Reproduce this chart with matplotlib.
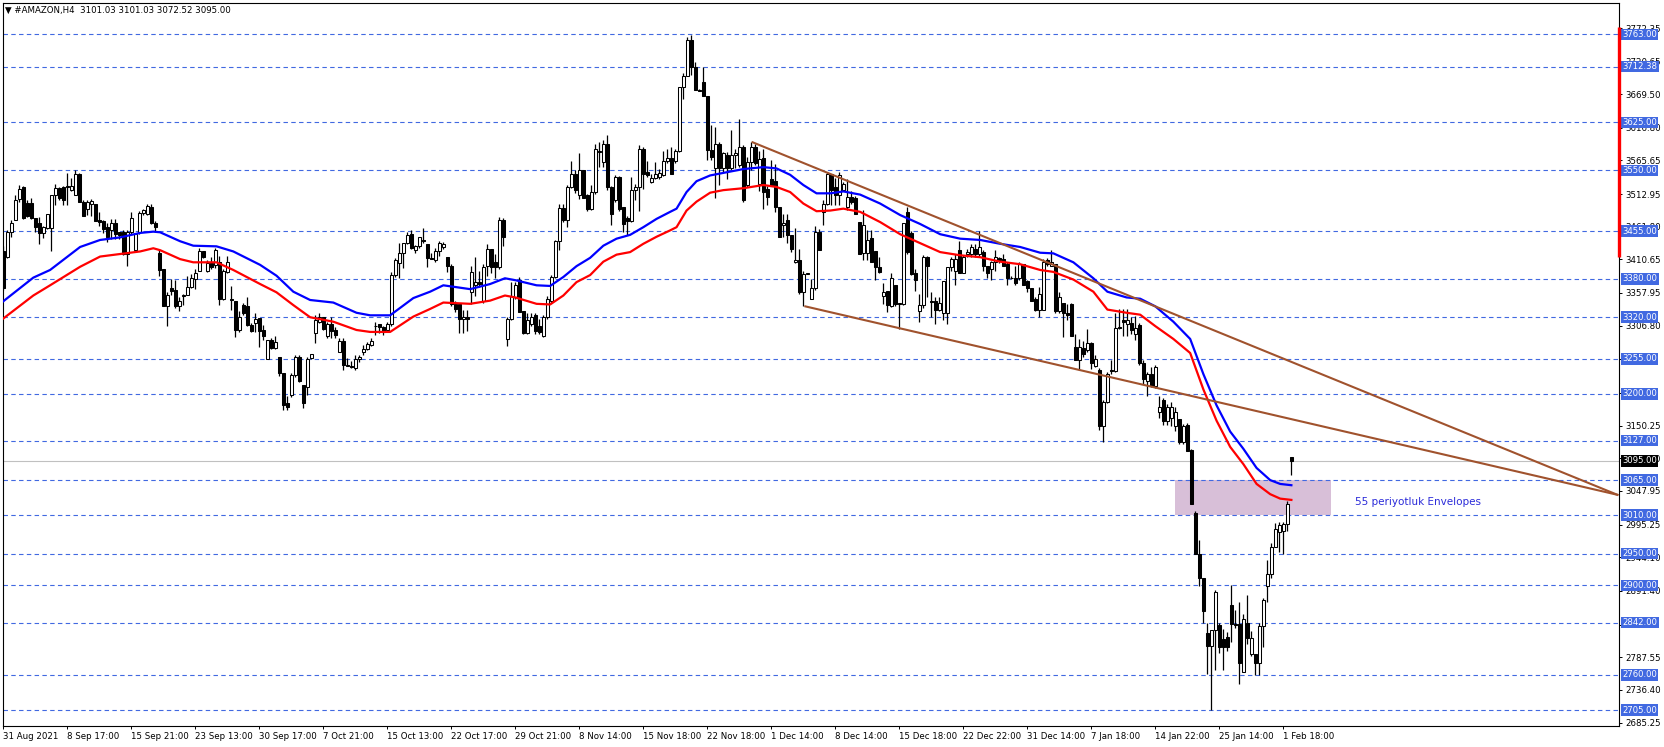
import matplotlib
matplotlib.use("Agg")
import matplotlib.pyplot as plt
import matplotlib.transforms as mtransforms
from matplotlib.patches import Rectangle
import numpy as np

# H4 candles (one value per bar)
opens = [
    3423, 3415, 3454, 3473, 3505, 3524, 3499, 3499, 3476, 3468,
    3452, 3459, 3459, 3511, 3522, 3524, 3524, 3519, 3512, 3544,
    3501, 3490, 3497, 3497, 3473, 3470, 3462, 3457, 3467, 3453,
    3454, 3419, 3454, 3426, 3453, 3483, 3482, 3492, 3467, 3420,
    3395, 3338, 3366, 3363, 3337, 3353, 3355, 3367, 3380, 3393,
    3423, 3393, 3405, 3402, 3407, 3348, 3391, 3348, 3346, 3300,
    3339, 3338, 3308, 3311, 3319, 3300, 3255, 3284, 3272, 3257,
    3232, 3185, 3198, 3229, 3257, 3214, 3211, 3256, 3295, 3313,
    3320, 3290, 3310, 3300, 3266, 3283, 3246, 3244, 3240, 3255,
    3266, 3270, 3276, 3307, 3309, 3305, 3300, 3310, 3386, 3405,
    3420, 3436, 3450, 3425, 3431, 3441, 3434, 3413, 3409, 3424,
    3430, 3414, 3401, 3341, 3341, 3318, 3320, 3359, 3370, 3375,
    3346, 3401, 3427, 3406, 3398, 3472, 3286, 3317, 3351, 3378,
    3330, 3296, 3310, 3323, 3307, 3291, 3320, 3346, 3383, 3439,
    3491, 3472, 3524, 3545, 3511, 3550, 3511, 3490, 3516, 3581,
    3563, 3592, 3524, 3503, 3540, 3493, 3475, 3470, 3519, 3524,
    3584, 3547, 3532, 3538, 3540, 3542, 3564, 3570, 3564, 3580,
    3681, 3697, 3754, 3712, 3676, 3688, 3667, 3582, 3553, 3592,
    3553, 3574, 3553, 3574, 3559, 3587, 3527, 3563, 3587, 3529,
    3569, 3521, 3537, 3534, 3492, 3464, 3472, 3449, 3406, 3410,
    3359, 3388, 3349, 3365, 3453, 3485, 3498, 3545, 3524, 3512,
    3519, 3493, 3508, 3507, 3469, 3420, 3420, 3444, 3423, 3399,
    3354, 3361, 3338, 3370, 3342, 3340, 3485, 3452, 3390, 3330,
    3339, 3414, 3346, 3346, 3332, 3327, 3327, 3398, 3392, 3425,
    3390, 3419, 3419, 3427, 3419, 3422, 3400, 3395, 3406, 3413,
    3411, 3403, 3382, 3381, 3381, 3403, 3376, 3365, 3349, 3332,
    3332, 3409, 3400, 3403, 3330, 3343, 3327, 3340, 3273, 3253,
    3272, 3269, 3280, 3243, 3237, 3150, 3188, 3238, 3236, 3305,
    3315, 3309, 3311, 3293, 3308, 3248, 3220, 3231, 3212, 3171,
    3190, 3157, 3163, 3150, 3160, 3125, 3151, 3112, 3014, 2950,
    2912, 2825, 2806, 2830, 2838, 2816, 2819, 2869, 2839, 2839,
    2765, 2841, 2792, 2792, 2779, 2836, 2899, 2918, 2961, 2983,
    2986, 2997, 3101.03,
]
highs = [
    3431, 3457, 3473, 3511, 3527, 3526, 3504, 3507, 3476, 3477,
    3463, 3482, 3512, 3529, 3524, 3526, 3546, 3538, 3550, 3546,
    3504, 3504, 3505, 3497, 3485, 3473, 3467, 3474, 3474, 3454,
    3456, 3457, 3484, 3452, 3486, 3490, 3498, 3497, 3470, 3425,
    3395, 3360, 3380, 3378, 3351, 3357, 3384, 3388, 3395, 3428,
    3424, 3410, 3415, 3428, 3416, 3395, 3416, 3369, 3346, 3329,
    3343, 3351, 3311, 3327, 3319, 3308, 3284, 3287, 3290, 3258,
    3232, 3196, 3232, 3261, 3261, 3214, 3257, 3263, 3323, 3327,
    3321, 3312, 3321, 3304, 3288, 3287, 3256, 3251, 3261, 3261,
    3277, 3281, 3288, 3313, 3310, 3307, 3312, 3391, 3413, 3436,
    3437, 3454, 3457, 3433, 3445, 3460, 3434, 3420, 3429, 3440,
    3438, 3414, 3403, 3346, 3343, 3331, 3331, 3401, 3414, 3393,
    3403, 3435, 3427, 3419, 3477, 3475, 3320, 3375, 3375, 3383,
    3330, 3326, 3326, 3326, 3318, 3323, 3354, 3386, 3441, 3498,
    3498, 3527, 3564, 3551, 3577, 3551, 3513, 3527, 3592, 3595,
    3597, 3605, 3526, 3543, 3541, 3493, 3478, 3540, 3529, 3589,
    3587, 3565, 3544, 3563, 3552, 3580, 3584, 3586, 3584, 3681,
    3702, 3758, 3762, 3720, 3677, 3712, 3667, 3621, 3618, 3594,
    3579, 3579, 3613, 3584, 3631, 3590, 3571, 3594, 3592, 3581,
    3583, 3526, 3566, 3560, 3492, 3481, 3482, 3449, 3459, 3427,
    3393, 3389, 3380, 3463, 3458, 3503, 3547, 3545, 3538, 3547,
    3532, 3537, 3518, 3510, 3469, 3488, 3457, 3457, 3423, 3414,
    3373, 3361, 3389, 3370, 3343, 3467, 3493, 3455, 3395, 3357,
    3417, 3416, 3360, 3351, 3351, 3376, 3398, 3414, 3419, 3439,
    3417, 3427, 3435, 3435, 3455, 3425, 3400, 3408, 3425, 3414,
    3419, 3406, 3385, 3400, 3406, 3403, 3379, 3365, 3352, 3368,
    3411, 3412, 3425, 3403, 3359, 3343, 3341, 3343, 3294, 3286,
    3283, 3302, 3282, 3261, 3240, 3191, 3234, 3253, 3327, 3333,
    3333, 3333, 3320, 3322, 3311, 3253, 3234, 3242, 3245, 3196,
    3193, 3184, 3187, 3180, 3160, 3153, 3155, 3114, 3016, 2972,
    2912, 2841, 2830, 2893, 2841, 2832, 2827, 2901, 2862, 2874,
    2855, 2885, 2828, 2792, 2841, 2881, 2940, 2966, 2998, 3000,
    2999, 3032, 3101.03,
]
lows = [
    3362, 3412, 3445, 3472, 3501, 3474, 3477, 3474, 3454, 3435,
    3444, 3458, 3424, 3496, 3504, 3495, 3495, 3517, 3511, 3500,
    3478, 3480, 3478, 3470, 3463, 3452, 3438, 3443, 3443, 3443,
    3418, 3400, 3451, 3424, 3451, 3480, 3480, 3466, 3454, 3384,
    3337, 3306, 3355, 3335, 3330, 3339, 3355, 3366, 3364, 3393,
    3413, 3391, 3396, 3397, 3339, 3347, 3389, 3332, 3289, 3297,
    3323, 3307, 3297, 3297, 3274, 3284, 3255, 3270, 3271, 3228,
    3175, 3174, 3195, 3227, 3219, 3178, 3199, 3255, 3280, 3311,
    3300, 3288, 3288, 3287, 3265, 3237, 3244, 3240, 3238, 3250,
    3261, 3268, 3275, 3292, 3295, 3292, 3297, 3307, 3383, 3382,
    3397, 3434, 3427, 3420, 3428, 3437, 3399, 3411, 3407, 3416,
    3427, 3391, 3338, 3328, 3296, 3296, 3298, 3341, 3354, 3368,
    3343, 3385, 3390, 3381, 3396, 3431, 3275, 3315, 3348, 3328,
    3294, 3294, 3307, 3294, 3294, 3289, 3317, 3343, 3381, 3425,
    3469, 3461, 3522, 3515, 3505, 3506, 3487, 3488, 3513, 3555,
    3555, 3519, 3464, 3500, 3487, 3453, 3448, 3469, 3503, 3487,
    3521, 3540, 3530, 3537, 3537, 3541, 3561, 3545, 3561, 3579,
    3662, 3697, 3699, 3676, 3674, 3667, 3566, 3566, 3506, 3527,
    3548, 3537, 3550, 3553, 3555, 3500, 3524, 3550, 3559, 3518,
    3490, 3495, 3526, 3484, 3445, 3445, 3436, 3422, 3405, 3356,
    3337, 3387, 3348, 3362, 3425, 3464, 3496, 3496, 3496, 3496,
    3517, 3488, 3498, 3482, 3419, 3409, 3409, 3406, 3379, 3390,
    3341, 3328, 3336, 3337, 3302, 3339, 3419, 3386, 3361, 3313,
    3335, 3351, 3320, 3310, 3329, 3316, 3310, 3393, 3370, 3389,
    3390, 3414, 3414, 3414, 3414, 3392, 3382, 3379, 3393, 3405,
    3400, 3370, 3380, 3370, 3378, 3370, 3360, 3346, 3330, 3321,
    3332, 3400, 3400, 3327, 3327, 3289, 3315, 3290, 3253, 3238,
    3257, 3266, 3239, 3242, 3144, 3125, 3186, 3231, 3234, 3301,
    3290, 3290, 3293, 3284, 3246, 3215, 3196, 3211, 3209, 3163,
    3152, 3152, 3150, 3142, 3122, 3122, 3111, 3027, 2950, 2899,
    2841, 2762, 2705, 2767, 2794, 2767, 2797, 2811, 2834, 2746,
    2765, 2808, 2790, 2760, 2760, 2803, 2874, 2911, 2961, 2953,
    2949, 2986, 3072.52,
]
closes = [
    3365, 3454, 3468, 3504, 3521, 3475, 3478, 3475, 3462, 3452,
    3461, 3481, 3511, 3522, 3507, 3504, 3525, 3526, 3544, 3501,
    3479, 3501, 3502, 3471, 3469, 3458, 3445, 3467, 3450, 3449,
    3419, 3454, 3475, 3450, 3483, 3488, 3494, 3468, 3461, 3394,
    3338, 3355, 3361, 3337, 3346, 3355, 3367, 3381, 3390, 3423,
    3415, 3405, 3399, 3425, 3348, 3393, 3407, 3347, 3300, 3320,
    3326, 3308, 3298, 3318, 3299, 3291, 3284, 3272, 3282, 3232,
    3182, 3180, 3230, 3257, 3220, 3186, 3255, 3262, 3315, 3320,
    3302, 3310, 3299, 3292, 3283, 3245, 3244, 3242, 3254, 3257,
    3270, 3278, 3283, 3306, 3305, 3297, 3310, 3386, 3410, 3420,
    3436, 3449, 3428, 3431, 3445, 3439, 3412, 3411, 3424, 3437,
    3434, 3400, 3341, 3333, 3317, 3320, 3318, 3391, 3375, 3372,
    3398, 3427, 3398, 3398, 3472, 3446, 3317, 3354, 3370, 3328,
    3296, 3315, 3320, 3299, 3297, 3320, 3349, 3383, 3439, 3491,
    3472, 3524, 3545, 3519, 3550, 3506, 3490, 3516, 3583, 3579,
    3592, 3524, 3482, 3540, 3490, 3466, 3470, 3519, 3524, 3584,
    3545, 3542, 3538, 3545, 3546, 3564, 3570, 3545, 3580, 3681,
    3697, 3754, 3712, 3676, 3675, 3667, 3582, 3571, 3592, 3553,
    3577, 3553, 3574, 3577, 3587, 3503, 3563, 3587, 3561, 3568,
    3516, 3508, 3526, 3492, 3445, 3468, 3448, 3427, 3410, 3359,
    3388, 3388, 3365, 3453, 3425, 3498, 3545, 3519, 3511, 3542,
    3528, 3508, 3500, 3482, 3419, 3465, 3441, 3406, 3398, 3391,
    3360, 3339, 3381, 3340, 3341, 3467, 3422, 3388, 3379, 3339,
    3414, 3400, 3344, 3332, 3343, 3376, 3398, 3411, 3411, 3390,
    3414, 3422, 3430, 3419, 3430, 3400, 3390, 3406, 3414, 3409,
    3400, 3381, 3381, 3373, 3403, 3370, 3365, 3346, 3332, 3357,
    3406, 3403, 3406, 3330, 3351, 3327, 3324, 3291, 3253, 3273,
    3262, 3280, 3248, 3254, 3150, 3188, 3231, 3236, 3303, 3303,
    3312, 3316, 3300, 3303, 3248, 3223, 3231, 3212, 3242, 3179,
    3157, 3179, 3179, 3171, 3125, 3150, 3111, 3027, 2950, 2912,
    2860, 2806, 2830, 2890, 2803, 2803, 2803, 2839, 2838, 2779,
    2847, 2817, 2817, 2779, 2836, 2877, 2918, 2961, 2988, 2995,
    2997, 3027, 3095.00,
]

# 55 period envelopes, sampled along the bars
env_bars = [0, 7.5, 11.7, 19.2, 24.2, 29.2, 34.2, 37.5, 39.2, 44.2,
            47.5, 53.3, 57.5, 64.2, 68.3, 72.5, 76.7, 82.5, 88.3, 91.7,
            96.7, 102.5, 106.7, 110, 116.7, 121.7, 125.4, 128, 133.3, 136.7,
            140, 143.3, 146.7, 150, 153.3, 156.7, 160, 163.3, 166.7, 168.3,
            170.8, 173.3, 176.7, 180, 185, 190, 193.3, 196.7, 200, 203.3,
            206.7, 210, 214.2, 219.2, 224.2, 229.2, 234.2, 239.2, 244.2, 249.2,
            254.2, 259.2, 262.5, 267.5, 272.5, 276, 280.8, 284.2, 288, 292.5,
            296.7, 300, 303.3, 306.7, 310, 313.3, 316.7, 319.2, 322]
env_upper = [3345, 3382, 3394, 3430, 3441, 3445, 3452, 3454, 3453, 3439,
             3432, 3431, 3423, 3402, 3385, 3360, 3347, 3343, 3327, 3323,
             3323, 3350, 3360, 3370, 3364, 3372, 3381, 3378, 3370, 3369,
             3383, 3400, 3413, 3432, 3443, 3449, 3461, 3474, 3485, 3490,
             3516, 3533, 3542, 3546, 3552, 3555, 3553, 3543, 3527, 3514,
             3514, 3517, 3512, 3498, 3480, 3466, 3450, 3443, 3441, 3435,
             3430, 3421, 3420, 3406, 3381, 3360, 3351, 3349, 3337, 3313,
             3286, 3231, 3182, 3141, 3114, 3084, 3065, 3059, 3057]
env_lower = [3318, 3354, 3370, 3399, 3415, 3419, 3423, 3428, 3425, 3411,
             3406, 3406, 3394, 3372, 3359, 3339, 3320, 3313, 3300, 3297,
             3297, 3321, 3333, 3343, 3341, 3346, 3354, 3351, 3341, 3340,
             3354, 3375, 3386, 3407, 3418, 3422, 3435, 3446, 3456, 3461,
             3487, 3501, 3515, 3519, 3522, 3527, 3524, 3516, 3498, 3486,
             3487, 3490, 3485, 3469, 3450, 3436, 3422, 3417, 3414, 3407,
             3403, 3394, 3391, 3379, 3360, 3332, 3327, 3324, 3306, 3286,
             3264, 3207, 3158, 3117, 3090, 3059, 3043, 3036, 3034]

# drawn objects
levels = [3763.00, 3712.38, 3625.00, 3550.00, 3455.00, 3380.00, 3320.00,
          3255.00, 3200.00, 3127.00, 3065.00, 3010.00, 2950.00, 2900.00,
          2842.00, 2760.00, 2705.00]
last_price = 3095.00
upper_trend_bars = [187.3, 403.5]
upper_trend_prices = [3594, 3042]
lower_trend_bars = [200.5, 403.5]
lower_trend_prices = [3337, 3042]
zone_bars = [293, 332]
zone_prices = [3010, 3065]

price_ticks = [2685.25, 2736.40, 2787.55, 2838.70, 2891.40, 2944.10, 2995.25,
               3047.95, 3099.10, 3150.25, 3201.40, 3254.10, 3306.80, 3357.95,
               3410.65, 3461.80, 3512.95, 3565.65, 3616.80, 3669.50, 3720.65,
               3772.35]
# these scale labels sit fully under a level box on the chart
hidden_ticks = [2838.70, 3201.40, 3254.10]
date_bars = [0, 16, 32, 48, 64, 80, 96, 112, 128, 144, 160, 176, 192, 208,
             224, 240, 256, 272, 288, 304, 320]
date_labels = ['31 Aug 2021', '8 Sep 17:00', '15 Sep 21:00', '23 Sep 13:00',
               '30 Sep 17:00', '7 Oct 21:00', '15 Oct 13:00', '22 Oct 17:00',
               '29 Oct 21:00', '8 Nov 14:00', '15 Nov 18:00', '22 Nov 18:00',
               '1 Dec 14:00', '8 Dec 14:00', '15 Dec 18:00', '22 Dec 22:00',
               '31 Dec 14:00', '7 Jan 18:00', '14 Jan 22:00', '25 Jan 14:00',
               '1 Feb 18:00']

W, H = 1665, 747
fig = plt.figure(figsize=(W / 100, H / 100), dpi=100)
fig.patch.set_facecolor('white')
ax = fig.add_axes([3 / W, 21 / H, 1616 / W, 723 / H])
ax.set_xlim(-0.075, 403.9)
ax.set_ylim(2680, 3812)

level_blue = '#4169E1'

# horizontal levels
for lv in levels:
    ax.axhline(lv, color=level_blue, lw=0.8, ls=(0, (4, 3)), zorder=1)
ax.axhline(last_price, color='#C0C0C0', lw=0.8, zorder=1)

# zone box and its note
ax.add_patch(Rectangle((zone_bars[0], zone_prices[0]), zone_bars[1] - zone_bars[0],
                       zone_prices[1] - zone_prices[0], facecolor='#D8BFD8',
                       edgecolor='none', zorder=0.5))
ax.text(338, 3031, '55 periyotluk Envelopes', color='#2B2BD9', fontsize=7.5,
        ha='left', va='center', zorder=6)

# candles
o = np.array(opens, dtype=float)
h = np.array(highs, dtype=float)
l = np.array(lows, dtype=float)
c = np.array(closes, dtype=float)
x = np.arange(len(c))
up = c >= o
ax.vlines(x, l, h, color='black', lw=0.9, zorder=2)
body = np.maximum(np.abs(c - o), 0.9)
ax.bar(x[up], body[up], bottom=o[up], width=0.65, color='white',
       edgecolor='black', linewidth=0.75, zorder=2.5)
ax.bar(x[~up], body[~up], bottom=c[~up], width=0.65, color='black',
       edgecolor='black', linewidth=0.75, zorder=2.5)

# envelopes
ax.plot(env_bars, env_upper, color='#0000FF', lw=1.6, zorder=3)
ax.plot(env_bars, env_lower, color='#FF0000', lw=1.6, zorder=3)

# trend lines
ax.plot(upper_trend_bars, upper_trend_prices, color='#A0522D', lw=1.5, zorder=4)
ax.plot(lower_trend_bars, lower_trend_prices, color='#A0522D', lw=1.5, zorder=4)

# axes look
for sp in ax.spines.values():
    sp.set_color('black')
    sp.set_linewidth(0.8)
ax.yaxis.tick_right()
ax.set_yticks(price_ticks)
ax.set_yticklabels(['' if p in hidden_ticks else '%.2f' % p for p in price_ticks],
                   fontsize=6.2)
ax.tick_params(axis='y', length=2.5, width=0.7, pad=1.8, colors='black')
ax.set_xticks(date_bars)
ax.set_xticklabels(date_labels, fontsize=6.2, ha='left')
ax.tick_params(axis='x', length=2.5, width=0.7, pad=1.5, colors='black')

trans = mtransforms.blended_transform_factory(ax.transAxes, ax.transData)
for lv in levels:
    ax.text(1.002, lv, '%.2f' % lv, transform=trans, ha='left', va='center',
            fontsize=6.1, color='white', clip_on=False, zorder=10,
            bbox=dict(boxstyle='square,pad=0.15', facecolor=level_blue,
                      edgecolor='none'))
ax.text(1.002, last_price, '%.2f' % last_price, transform=trans, ha='left',
        va='center', fontsize=6.1, color='white', clip_on=False, zorder=10,
        bbox=dict(boxstyle='square,pad=0.15', facecolor='black', edgecolor='none'))
ax.plot([1.0, 1.0], [3774.5, 3414.3], transform=trans, color='red', lw=2.4,
        solid_capstyle='butt', clip_on=False, zorder=11)

fig.text(5 / W, 1 - 10 / H, '\u25bc #AMAZON,H4  3101.03 3101.03 3072.52 3095.00',
         fontsize=6.2, va='center', ha='left')

fig.savefig('out.png', dpi=100)
